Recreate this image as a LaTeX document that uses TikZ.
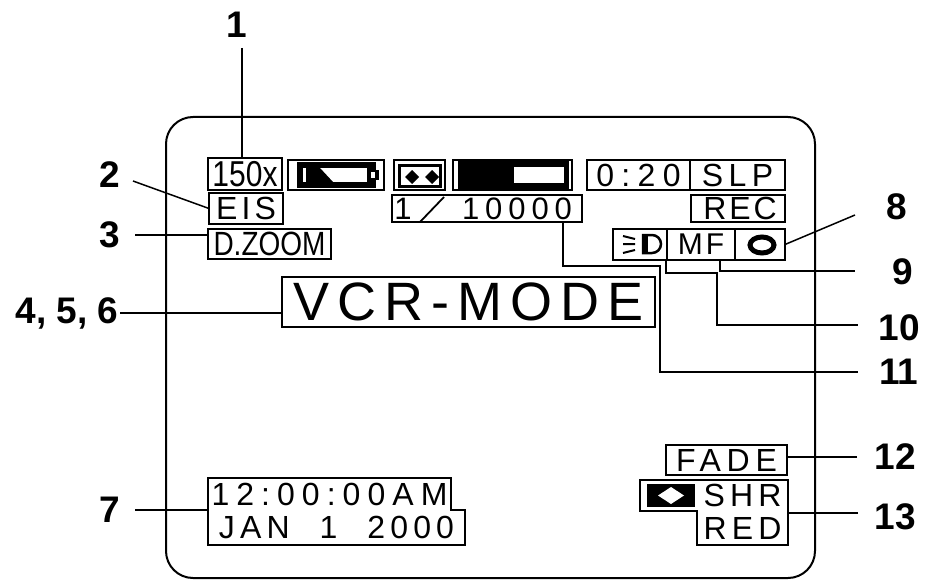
\documentclass[tikz,border=0pt]{standalone}
\usepackage{fontspec}
\usepackage{graphicx}
\setmainfont{Liberation Sans}
\usetikzlibrary{calc}
\newcommand{\tx}[3]{\fontsize{#1}{#1}\selectfont\addfontfeature{LetterSpace=#2}#3}
\newcommand{\bx}[8]{\node[boxn,minimum width={(#4-#2)*1pt},minimum height={(#5-#3)*1pt}] (#1) at ({(#2+#4)/2},{(#3+#5)/2}) {\tx{#6}{#7}{#8}};}
\newcommand{\tn}[8]{\node[boxn,draw=none,minimum width={(#4-#2)*1pt},minimum height={(#5-#3)*1pt}] (#1) at ({(#2+#4)/2},{(#3+#5)/2}) {\tx{#6}{#7}{#8}};}
\tikzset{
  boxn/.style={draw=black,line width=1.8pt,inner sep=0pt,outer sep=0pt,text=black},
  lab/.style={font=\bfseries\fontsize{37}{37}\selectfont,inner sep=2pt,outer sep=0pt},
  conn/.style={draw=black,line width=1.5pt},
  frameline/.style={draw=black,line width=2pt,rounded corners=27pt},
  stepline/.style={draw=black,line width=1.8pt}
}
\begin{document}
\begin{tikzpicture}[x=1pt,y=-1pt]
\useasboundingbox (0,0) rectangle (931,583);
\fill[white] (0,0) rectangle (931,583);
\draw[frameline] (166,117) rectangle (815,578);
% boxes
\bx{zoomx}{208}{158}{282}{190}{30}{0}{\scalebox{1}[1.2]{150x}}
\bx{batt}{288}{160}{384}{190}{10}{0}{}
\bx{tape}{394}{160}{445}{190}{10}{0}{}
\bx{bar}{453}{160}{572}{190}{10}{0}{}
\bx{eis}{209}{193}{283}{224}{32}{13}{EIS}
\bx{dzoom}{208}{229}{331}{259}{28}{0}{\scalebox{1}[1.2]{D.ZOOM}}
\bx{speed}{392}{195}{582}{222}{10}{0}{}
\tn{one}{393}{195}{413}{222}{31}{0}{1}
\tn{zeros}{450}{195}{584}{222}{31}{19}{10000}
\bx{time}{587}{160}{690}{190}{32}{23}{0:20}
\bx{slp}{690}{160}{785}{190}{32}{17}{SLP}
\bx{rec}{691}{195}{785}{222}{32}{9}{\hspace*{4pt}REC}
\bx{light}{613}{229}{667}{260}{10}{0}{}
\bx{mf}{667}{229}{735}{260}{30}{10}{MF}
\bx{ring}{735}{229}{785}{260}{10}{0}{}
\bx{vcr}{282}{277}{655}{327}{54}{15}{VCR-MODE}
\bx{fade}{666}{445}{787}{475}{32}{18}{FADE}
% slash
\coordinate (slashA) at (420,222); \coordinate (slashB) at (444,197);
\draw[boxn] (slashA) -- (slashB);
% battery icon
\fill (297,162) rectangle (376,188);
\fill[white] (303,168) rectangle (367,182);
\fill (306,168) -- (320,168) -- (333,182) -- (306,182) -- cycle;
\fill (367,170) rectangle (379,180);
\fill[white] (371,172) rectangle (375,178);
% tape icon
\draw[line width=3pt] (399,165) rectangle (440,186);
\fill (405,177) -- (412,170) -- (419,177) -- (412,184) -- cycle;
\fill (425,177) -- (432,170) -- (439,177) -- (432,184) -- cycle;
% bar icon
\fill (458,161) rectangle (569,189);
\fill[white] (514,167) rectangle (564,183);
% headlight icon
\draw[line width=2.5pt] (652,253) arc (90:-90:9) -- (643,235) -- (643,253) -- cycle;
\fill (642,235) rectangle (648,253);
\draw[line width=2pt] (623,236) -- (635,239) (623,244) -- (635,244) (623,253) -- (635,250);
% ring icon
\draw[line width=5pt] (762,245) ellipse (12 and 8);
% date block
\tn{clock}{208}{478}{451}{510}{32}{22}{12:00:00AM}
\tn{date}{208}{510}{465}{545}{32}{16}{JAN\hspace*{30pt}1\hspace*{30pt}2000}
\draw[stepline] (clock.north west) -- (clock.north east) -- (clock.south east) -- (date.north east) -- (date.south east) -- (date.south west) -- cycle;
% effect block
\tn{shr}{697}{480}{788}{511}{32}{16}{SHR}
\tn{red}{697}{511}{788}{545}{32}{16}{RED}
\draw[stepline] (640,480) -- (shr.north east) -- (red.south east) -- (red.south west) -- (shr.south west) -- (640,511) -- cycle;
\fill (647,484) rectangle (695,507);
\fill[white] (658,495.5) -- (671,487) -- (684,495.5) -- (671,504) -- cycle;
% labels
\node[lab] (l1) at (237,25) {1};
\node[lab] (l2) at (110,175) {2};
\node[lab] (l3) at (110,235) {3};
\node[lab] (l4) at (67,313) {4, 5, 6};
\node[lab] (l7) at (110,510) {7};
\node[lab] (l8) at (897,207) {8};
\node[lab] (l9) at (903,272) {9};
\node[lab] (l10) at (899,328) {10};
\node[lab] (l11) at (899,372) {11};
\node[lab] (l12) at (895,457) {12};
\node[lab] (l13) at (895,517) {13};
% connectors
\coordinate (c1) at (242,48);
\draw[conn] (c1) -- (c1 |- zoomx.north);
\coordinate (c2) at (133,181);
\draw[conn] (c2) -- (eis.west);
\coordinate (c3) at (135,235);
\draw[conn] (c3) -- (c3 -| dzoom.west);
\draw[conn] (l4.east) -- (l4.east -| vcr.west);
\coordinate (c7) at (135,510);
\draw[conn] (c7) -- (c7 -| clock.west);
\coordinate (c8) at (855,215);
\draw[conn] (c8) -- (ring.east);
\coordinate (c9a) at (720,260); \coordinate (c9b) at (720,271); \coordinate (c9c) at (855,271);
\draw[conn] (c9a) -- (c9b) -- (c9c);
\coordinate (c10a) at (666,260); \coordinate (c10b) at (666,273); \coordinate (c10c) at (717,273); \coordinate (c10d) at (717,325); \coordinate (c10e) at (858,325);
\draw[conn] (c10a) -- (c10b) -- (c10c) -- (c10d) -- (c10e);
\coordinate (c11a) at (563,222); \coordinate (c11b) at (563,266); \coordinate (c11c) at (660,266); \coordinate (c11d) at (660,372); \coordinate (c11e) at (858,372);
\draw[conn] (c11a) -- (c11b) -- (c11c) -- (c11d) -- (c11e);
\coordinate (c12) at (857,457);
\draw[conn] (c12) -- (c12 -| fade.east);
\coordinate (c13) at (858,513);
\draw[conn] (c13) -- (c13 -| shr.east);
\end{tikzpicture}
\end{document}
